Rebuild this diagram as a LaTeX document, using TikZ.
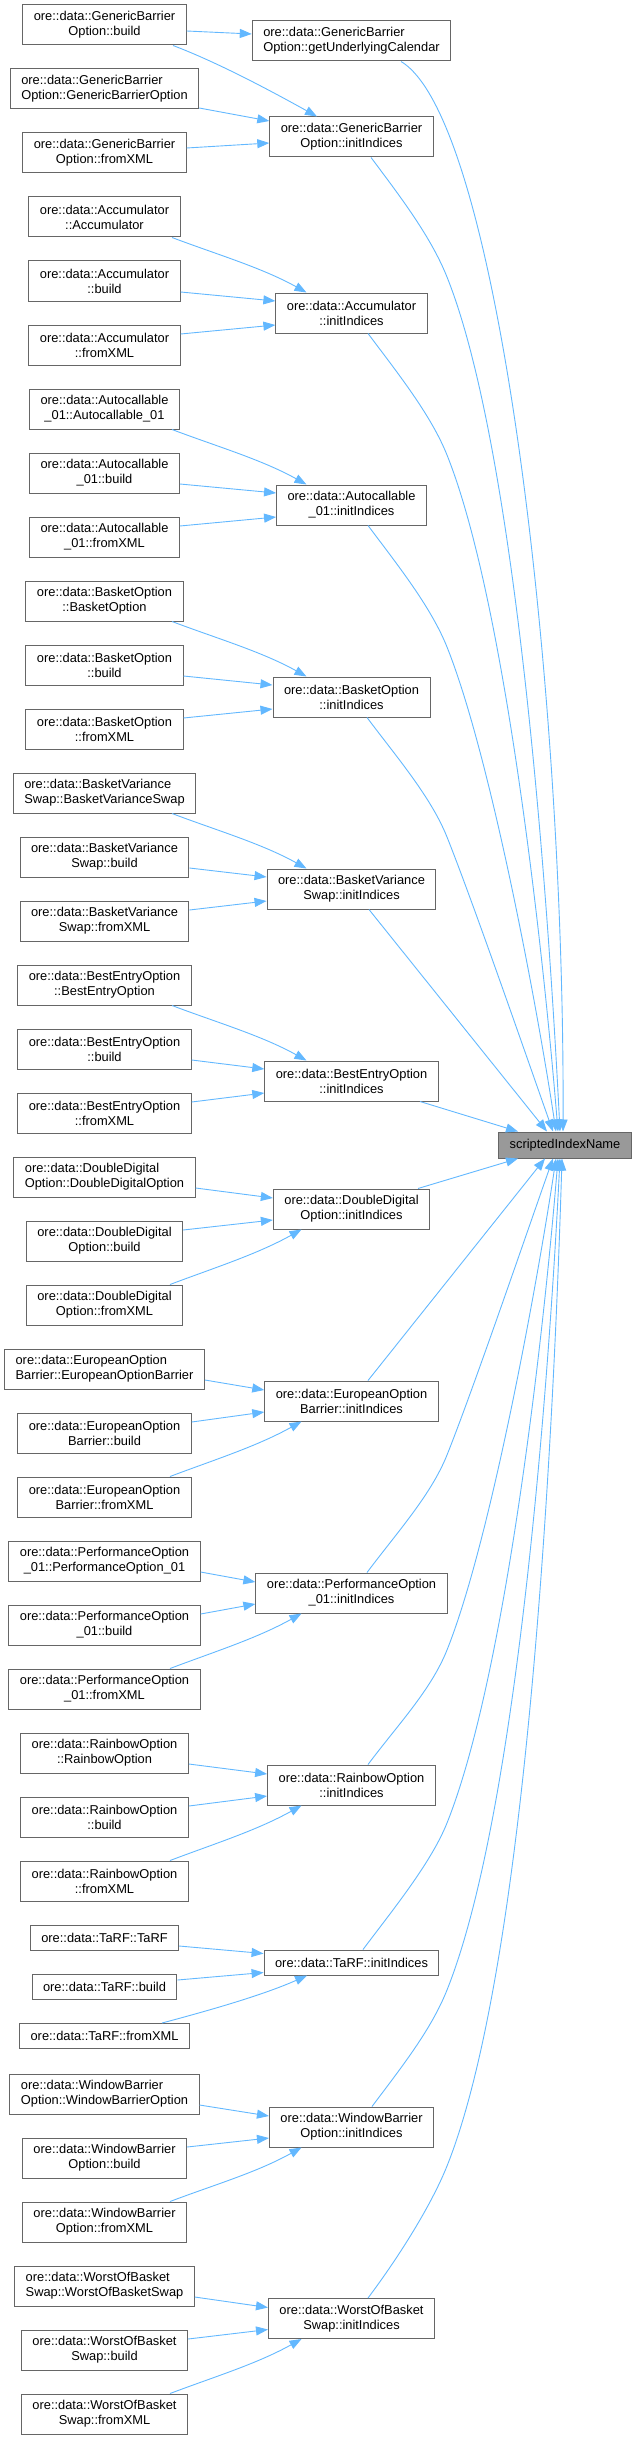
\documentclass[tikz,border=0pt]{standalone}
\usepackage{fontspec}
\setmainfont{Liberation Sans}
\usetikzlibrary{arrows.meta}
\definecolor{eblue}{HTML}{63B8FF}
\definecolor{ngray}{HTML}{666666}
\definecolor{hgray}{HTML}{999999}
\newcommand\fsz{\fontsize{12.85pt}{15pt}\selectfont}
\begin{document}
\begin{tikzpicture}[x=1pt,y=-1pt,
  fn/.style={draw=ngray, line width=1pt, fill=white, inner xsep=11pt, inner ysep=0pt, minimum height=40pt, align=center, font=\fsz},
  fnl/.style={fn, align=left},
  fn1/.style={fn, minimum height=25pt},
  hl/.style={fn, fill=hgray, minimum height=26pt},
  edg/.style={draw=eblue, line width=0.9pt, -{Triangle[length=12pt,width=9pt]}},
]
\useasboundingbox (0,0) rectangle (637,2440);

% ---- nodes ----
\node[hl] (sin) at (565,1145) {scriptedIndexName};

\node[fn]  (gb1) at (104.5,25)  {ore::data::GenericBarrier\\Option::build};
\node[fnl] (gb2) at (104.5,89)  {ore::data::GenericBarrier\\Option::GenericBarrierOption};
\node[fn]  (gb3) at (104.5,153) {ore::data::GenericBarrier\\Option::fromXML};
\node[fnl] (guc) at (351.5,41)  {ore::data::GenericBarrier\\Option::getUnderlyingCalendar};
\node[fn]  (gbi) at (351.5,137) {ore::data::GenericBarrier\\Option::initIndices};

\node[fn] (ac1) at (104.5,217) {ore::data::Accumulator\\::Accumulator};
\node[fn] (ac2) at (104.5,281) {ore::data::Accumulator\\::build};
\node[fn] (ac3) at (104.5,345) {ore::data::Accumulator\\::fromXML};
\node[fn] (aci) at (351.5,313) {ore::data::Accumulator\\::initIndices};

\node[fn] (au1) at (104.5,409) {ore::data::Autocallable\\\_01::Autocallable\_01};
\node[fn] (au2) at (104.5,473) {ore::data::Autocallable\\\_01::build};
\node[fn] (au3) at (104.5,537) {ore::data::Autocallable\\\_01::fromXML};
\node[fn] (aui) at (351.5,505) {ore::data::Autocallable\\\_01::initIndices};

\node[fn] (bo1) at (104.5,601) {ore::data::BasketOption\\::BasketOption};
\node[fn] (bo2) at (104.5,665) {ore::data::BasketOption\\::build};
\node[fn] (bo3) at (104.5,729) {ore::data::BasketOption\\::fromXML};
\node[fn] (boi) at (351.5,697) {ore::data::BasketOption\\::initIndices};

\node[fnl] (bv1) at (104.5,793) {ore::data::BasketVariance\\Swap::BasketVarianceSwap};
\node[fn]  (bv2) at (104.5,857) {ore::data::BasketVariance\\Swap::build};
\node[fn]  (bv3) at (104.5,921) {ore::data::BasketVariance\\Swap::fromXML};
\node[fn]  (bvi) at (351.5,889) {ore::data::BasketVariance\\Swap::initIndices};

\node[fn] (be1) at (104.5,985)  {ore::data::BestEntryOption\\::BestEntryOption};
\node[fn] (be2) at (104.5,1049) {ore::data::BestEntryOption\\::build};
\node[fn] (be3) at (104.5,1113) {ore::data::BestEntryOption\\::fromXML};
\node[fn] (bei) at (351.5,1081) {ore::data::BestEntryOption\\::initIndices};

\node[fnl] (dd1) at (104.5,1177) {ore::data::DoubleDigital\\Option::DoubleDigitalOption};
\node[fn]  (dd2) at (104.5,1241) {ore::data::DoubleDigital\\Option::build};
\node[fn]  (dd3) at (104.5,1305) {ore::data::DoubleDigital\\Option::fromXML};
\node[fn]  (ddi) at (351.5,1209) {ore::data::DoubleDigital\\Option::initIndices};

\node[fnl] (eo1) at (104.5,1369) {ore::data::EuropeanOption\\Barrier::EuropeanOptionBarrier};
\node[fn]  (eo2) at (104.5,1433) {ore::data::EuropeanOption\\Barrier::build};
\node[fn]  (eo3) at (104.5,1497) {ore::data::EuropeanOption\\Barrier::fromXML};
\node[fn]  (eoi) at (351.5,1401) {ore::data::EuropeanOption\\Barrier::initIndices};

\node[fn] (po1) at (104.5,1561) {ore::data::PerformanceOption\\\_01::PerformanceOption\_01};
\node[fn] (po2) at (104.5,1625) {ore::data::PerformanceOption\\\_01::build};
\node[fn] (po3) at (104.5,1689) {ore::data::PerformanceOption\\\_01::fromXML};
\node[fn] (poi) at (351.5,1593) {ore::data::PerformanceOption\\\_01::initIndices};

\node[fn] (rb1) at (104.5,1753) {ore::data::RainbowOption\\::RainbowOption};
\node[fn] (rb2) at (104.5,1817) {ore::data::RainbowOption\\::build};
\node[fn] (rb3) at (104.5,1881) {ore::data::RainbowOption\\::fromXML};
\node[fn] (rbi) at (351.5,1785) {ore::data::RainbowOption\\::initIndices};

\node[fn1] (tf1) at (104.5,1938) {ore::data::TaRF::TaRF};
\node[fn1] (tf2) at (104.5,1987) {ore::data::TaRF::build};
\node[fn1] (tf3) at (104.5,2036) {ore::data::TaRF::fromXML};
\node[fn1] (tfi) at (351.5,1962.5) {ore::data::TaRF::initIndices};

\node[fnl] (wb1) at (104.5,2094) {ore::data::WindowBarrier\\Option::WindowBarrierOption};
\node[fn]  (wb2) at (104.5,2158) {ore::data::WindowBarrier\\Option::build};
\node[fn]  (wb3) at (104.5,2222) {ore::data::WindowBarrier\\Option::fromXML};
\node[fn]  (wbi) at (351.5,2127) {ore::data::WindowBarrier\\Option::initIndices};

\node[fnl] (wo1) at (104.5,2286) {ore::data::WorstOfBasket\\Swap::WorstOfBasketSwap};
\node[fn]  (wo2) at (104.5,2350) {ore::data::WorstOfBasket\\Swap::build};
\node[fn]  (wo3) at (104.5,2414) {ore::data::WorstOfBasket\\Swap::fromXML};
\node[fn]  (woi) at (351.5,2318.5) {ore::data::WorstOfBasket\\Swap::initIndices};

% ---- left -> middle edges ----
\draw[edg] ([yshift=-6pt]gb1.east) -- ([yshift=7pt]guc.west);
\draw[edg] ([xshift=68.5pt]gb1.south) .. controls +(45,17) and +(-45,-25) .. ([xshift=-34.5pt]gbi.north);
\draw[edg] ([yshift=-19pt]gb2.east) -- ([yshift=16pt]gbi.west);
\draw[edg] ([yshift=5pt]gb3.east) -- ([yshift=-6pt]gbi.west);

\foreach \g in {ac,au,bo,bv,be}{
  \draw[edg] ([xshift=67.5pt]\g1.south) .. controls +(45,17) and +(-45,-25) .. ([xshift=-45pt]\g i.north);
  \draw[edg] ([yshift=-11pt]\g2.east) -- ([yshift=12pt]\g i.west);
  \draw[edg] ([yshift=11pt]\g3.east) -- ([yshift=-12pt]\g i.west);
}
\foreach \g in {dd,eo,po,rb,wb,wo}{
  \draw[edg] ([yshift=-11pt]\g1.east) -- ([yshift=11pt]\g i.west);
  \draw[edg] ([yshift=11pt]\g2.east) -- ([yshift=-11pt]\g i.west);
  \draw[edg] ([xshift=65.5pt]\g3.north) .. controls +(45,-17) and +(-45,25) .. ([xshift=-50pt]\g i.south);
}
\draw[edg] ([yshift=-8pt]tf1.east) -- ([yshift=9pt]tfi.west);
\draw[edg] ([yshift=7pt]tf2.east) -- ([yshift=-10pt]tfi.west);
\draw[edg] ([xshift=57.5pt]tf3.north) .. controls +(45,-12) and +(-45,20) .. ([xshift=-44.5pt]tfi.south);

% ---- middle -> scriptedIndexName ----
\draw[edg] ([xshift=49.5pt]guc.south) .. controls +(99,59) and +(2,-432) .. ([xshift=-2pt]sin.north);
\draw[edg] ([xshift=19.5pt]gbi.south) .. controls +(30,40) and +(-16,-40) .. (447,277) .. controls +(72,180) and +(-10,-200) .. ([xshift=-5pt]sin.north);
\draw[edg] ([xshift=16.5pt]aci.south) .. controls +(30,40) and +(-16,-40) .. (447,455) .. controls +(60,150) and +(-13,-160) .. ([xshift=-7pt]sin.north);
\draw[edg] ([xshift=16.5pt]aui.south) .. controls +(30,40) and +(-16,-40) .. (447,647) .. controls +(44,110) and +(-18,-120) .. ([xshift=-9pt]sin.north);
\draw[edg] ([xshift=15.5pt]boi.south) .. controls +(30,40) and +(-16,-40) .. (447,837) .. controls +(26,65) and +(-23,-65) .. ([xshift=-12pt]sin.north);
\draw[edg] ([xshift=17.5pt]bvi.south) -- ([xshift=-18pt]sin.north);
\draw[edg] ([xshift=68.5pt]bei.south) -- ([xshift=-47pt]sin.north);

\draw[edg] ([xshift=66.5pt]ddi.north) -- ([xshift=-47pt]sin.south);
\draw[edg] ([xshift=16.5pt]eoi.north) -- ([xshift=-20pt]sin.south);
\draw[edg] ([xshift=15.5pt]poi.north) .. controls +(30,-40) and +(-16,40) .. (447,1455) .. controls +(26,-65) and +(-23,65) .. ([xshift=-12pt]sin.south);
\draw[edg] ([xshift=16.5pt]rbi.north) .. controls +(30,-40) and +(-16,40) .. (447,1650) .. controls +(44,-110) and +(-18,120) .. ([xshift=-9pt]sin.south);
\draw[edg] ([xshift=11.5pt]tfi.north) .. controls +(30,-40) and +(-16,40) .. (447,1823) .. controls +(60,-150) and +(-13,160) .. ([xshift=-7pt]sin.south);
\draw[edg] ([xshift=20.5pt]wbi.north) .. controls +(30,-40) and +(-16,40) .. (447,1990) .. controls +(72,-180) and +(-10,200) .. ([xshift=-5pt]sin.south);
\draw[edg] ([xshift=16.5pt]woi.north) .. controls +(30,-40) and +(-16,40) .. (447,2166) .. controls +(84,-210) and +(-7,230) .. ([xshift=-3pt]sin.south);
\end{tikzpicture}
\end{document}
